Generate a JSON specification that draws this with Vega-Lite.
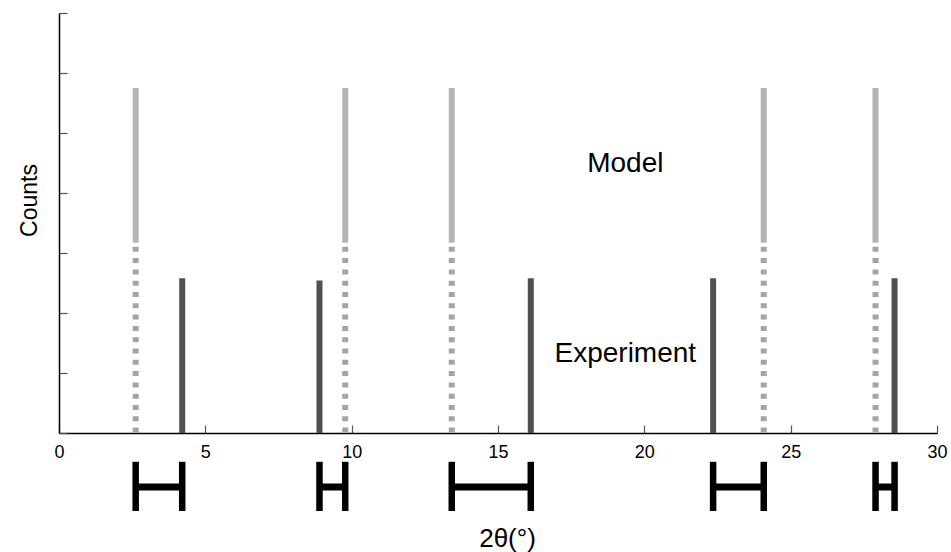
{
  "$schema": "https://vega.github.io/schema/vega-lite/v6.json",
  "width": 878,
  "height": 420,
  "autosize": {"type": "none"},
  "padding": {"left": 59, "top": 13, "right": 14, "bottom": 119},
  "background": "white",
  "config": {
    "view": {"stroke": null},
    "font": "Liberation Sans"
  },
  "datasets": {
    "peaks": [
      {"model": 2.62, "experiment": 4.21, "modelCounts": 5.75, "split": 3.17, "expCounts": 2.58},
      {"model": 9.78, "experiment": 8.9, "modelCounts": 5.75, "split": 3.17, "expCounts": 2.54},
      {"model": 13.42, "experiment": 16.12, "modelCounts": 5.75, "split": 3.17, "expCounts": 2.58},
      {"model": 24.08, "experiment": 22.35, "modelCounts": 5.75, "split": 3.17, "expCounts": 2.58},
      {"model": 27.9, "experiment": 28.55, "modelCounts": 5.75, "split": 3.17, "expCounts": 2.58}
    ],
    "labels": [
      {"x": 19.35, "y": 4.35, "text": "Model"},
      {"x": 19.35, "y": 1.18, "text": "Experiment"}
    ]
  },
  "layer": [
    {
      "data": {"name": "peaks"},
      "mark": {"type": "rule", "strokeWidth": 6, "color": "#b4b4b4", "strokeCap": "butt"},
      "encoding": {
        "x": {
          "field": "model", "type": "quantitative",
          "scale": {"domain": [0, 30], "nice": false},
          "axis": {
            "title": "2θ(°)",
            "values": [0, 5, 10, 15, 20, 25, 30],
            "tickSize": -8,
            "tickColor": "#555555",
            "tickWidth": 1.2,
            "domainColor": "#000000",
            "domainWidth": 1.5,
            "labelFontSize": 18,
            "labelColor": "#000000",
            "labelPadding": 18,
            "labelFlush": false,
            "grid": false,
            "titleFontSize": 26,
            "titleFontWeight": "normal",
            "titleColor": "#000000",
            "titleX": 448,
            "titleY": 113,
            "titleBaseline": "alphabetic",
            "titleAlign": "center"
          }
        },
        "y": {
          "field": "modelCounts", "type": "quantitative",
          "scale": {"domain": [0, 7], "nice": false},
          "axis": {
            "title": "Counts",
            "values": [0, 1, 2, 3, 4, 5, 6, 7],
            "labels": false,
            "tickSize": -8,
            "tickColor": "#555555",
            "tickWidth": 1.2,
            "domainColor": "#000000",
            "domainWidth": 1.5,
            "grid": false,
            "titleFontSize": 23,
            "titleFontWeight": "normal",
            "titleColor": "#000000",
            "titleAngle": -90,
            "titleX": -23,
            "titleY": 187,
            "titleBaseline": "alphabetic",
            "titleAlign": "center"
          }
        },
        "y2": {"field": "split"}
      }
    },
    {
      "data": {"name": "peaks"},
      "mark": {"type": "rule", "strokeWidth": 6, "color": "#a4a4a4", "strokeCap": "butt", "strokeDash": [5, 6.3], "strokeDashOffset": 7.3},
      "encoding": {
        "x": {"field": "model", "type": "quantitative"},
        "y": {"field": "split", "type": "quantitative"},
        "y2": {"datum": 0}
      }
    },
    {
      "data": {"name": "peaks"},
      "mark": {"type": "rule", "strokeWidth": 6, "color": "#505050", "strokeCap": "butt"},
      "encoding": {
        "x": {"field": "experiment", "type": "quantitative"},
        "y": {"field": "expCounts", "type": "quantitative"},
        "y2": {"datum": 0}
      }
    },
    {
      "data": {"name": "peaks"},
      "mark": {"type": "rule", "strokeWidth": 6.5, "color": "#000000", "strokeCap": "butt"},
      "encoding": {
        "x": {"field": "model", "type": "quantitative"},
        "y": {"datum": -0.48},
        "y2": {"datum": -1.3}
      }
    },
    {
      "data": {"name": "peaks"},
      "mark": {"type": "rule", "strokeWidth": 6.5, "color": "#000000", "strokeCap": "butt"},
      "encoding": {
        "x": {"field": "experiment", "type": "quantitative"},
        "y": {"datum": -0.48},
        "y2": {"datum": -1.3}
      }
    },
    {
      "data": {"name": "peaks"},
      "mark": {"type": "rule", "strokeWidth": 7, "color": "#000000", "strokeCap": "butt"},
      "encoding": {
        "x": {"field": "model", "type": "quantitative"},
        "x2": {"field": "experiment"},
        "y": {"datum": -0.9}
      }
    },
    {
      "data": {"name": "labels"},
      "mark": {"type": "text", "fontSize": 28, "color": "#000000", "align": "center", "baseline": "alphabetic"},
      "encoding": {
        "x": {"field": "x", "type": "quantitative"},
        "y": {"field": "y", "type": "quantitative"},
        "text": {"field": "text"}
      }
    }
  ]
}
